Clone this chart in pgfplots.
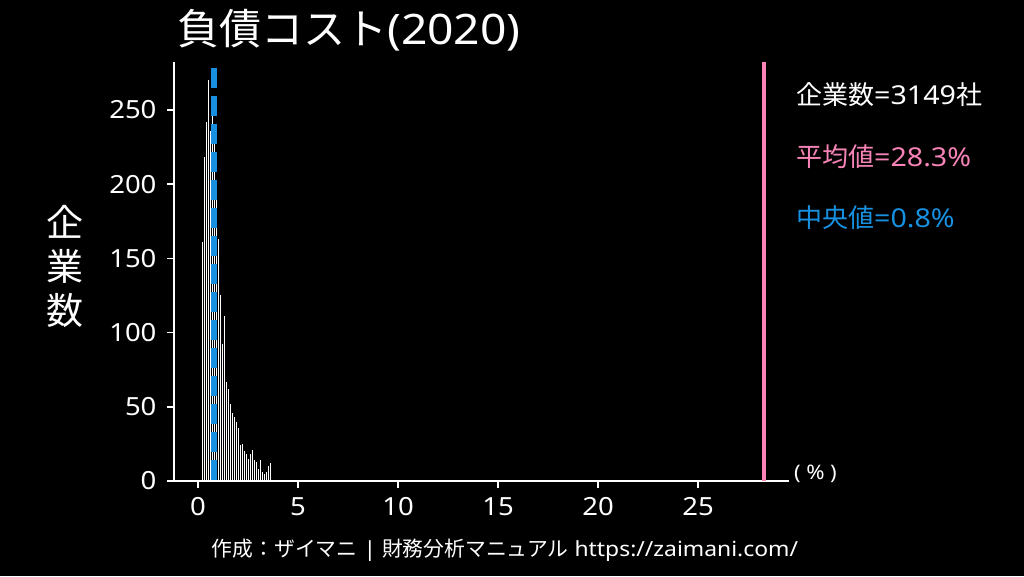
\documentclass[border=0pt]{standalone}
\usepackage{fontspec}
\setmainfont[FakeStretch=1.1]{Noto Sans}
\newfontfamily\cjk{Noto Sans CJK JP}
\usepackage{pgfplots}
\pgfplotsset{compat=1.18}
\definecolor{mypink}{RGB}{247,131,183}
\definecolor{myblue}{RGB}{24,144,224}
\begin{document}
\begin{tikzpicture}[x=1pt,y=1pt]
\fill[black] (0,0) rectangle (1024,576);
\useasboundingbox (0,0) rectangle (1024,576);
\begin{axis}[
  at={(174pt,95pt)}, anchor=south west,
  scale only axis, width=615pt, height=419pt,
  xmin=-1.2, xmax=29.55, ymin=0, ymax=282.3,
  axis x line*=bottom, axis y line*=left,
  axis line style={white, line width=1.5pt},
  every tick/.style={white, line width=1.5pt},
  tick align=outside, major tick length=7pt,
  xtick={0,5,10,15,20,25}, ytick={0,50,100,150,200,250},
  tick label style={white, font=\fontsize{25}{28}\selectfont},
  xticklabel style={yshift=-6pt},
  yticklabel style={xshift=-7pt},
  /pgf/number format/assume math mode=true,
  clip=false,
]
\addplot[ycomb, white, line width=1pt, mark=none] coordinates {
(0.2,161) (0.3,218) (0.4,242) (0.5,270) (0.6,236) (0.7,250) (0.8,232) (0.9,195)
(1.0,163) (1.1,125) (1.2,92) (1.3,111) (1.4,67) (1.5,62)
(1.6,52) (1.7,46) (1.8,43) (1.9,40) (2.0,36) (2.1,24) (2.2,25) (2.3,20)
(2.4,18) (2.5,15) (2.6,18) (2.7,21) (2.8,14) (2.9,13) (3.0,8) (3.1,14)
(3.2,6) (3.3,5) (3.4,6) (3.5,10) (3.6,12)
};
\addplot[mypink, line width=4pt] coordinates {(28.3,0) (28.3,282.3)};
\addplot[myblue, line width=5.5pt, dash pattern=on 20pt off 8pt] coordinates {(0.8,278) (0.8,0)};
\end{axis}
\node[anchor=west, white, font=\fontsize{42}{48}\selectfont, inner sep=0] at (177,546) {{\cjk 負債コスト}(2020)};
\node[anchor=center, white, align=center, font=\fontsize{37}{44}\selectfont\cjk, inner sep=0] at (65,310) {企\\業\\数};
\node[anchor=west, white, font=\fontsize{26}{30}\selectfont, inner sep=0] at (796,481) {{\cjk 企業数}=3149{\cjk 社}};
\node[anchor=west, mypink, font=\fontsize{26}{30}\selectfont, inner sep=0] at (796,419) {{\cjk 平均値}=28.3\%};
\node[anchor=west, myblue, font=\fontsize{26}{30}\selectfont, inner sep=0] at (796,358) {{\cjk 中央値}=0.8\%};
\node[anchor=west, white, font=\fontsize{20}{22}\selectfont, inner sep=0] at (794,102) {(\;\%\;)};
\node[anchor=center, white, font=\fontsize{20.8}{24}\selectfont, inner sep=0] at (505,26) {{\cjk 作成：ザイマニ} | {\cjk 財務分析マニュアル} https://zaimani.com/};
\end{tikzpicture}
\end{document}
